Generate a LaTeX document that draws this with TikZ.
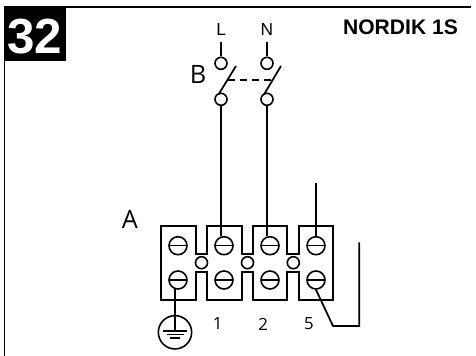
\documentclass[tikz,border=0pt]{standalone}
\usepackage{fontspec}
\setmainfont{Liberation Sans}
\newfontfamily\myriad{Open Sans}
\tikzset{
  x=0.75pt,y=-0.75pt,
  ln/.style={line width=1.3pt,line join=miter},
  screw/.style={circle,draw,line width=1.2pt,minimum size=13.5pt,inner sep=0pt,path picture={\draw[line width=1.2pt] (path picture bounding box.west)--(path picture bounding box.east);}},
  ring/.style={circle,draw,line width=1.2pt,minimum size=9pt,inner sep=0pt},
  lab/.style={font=\myriad\fontsize{12.6pt}{14pt}\selectfont,inner sep=0pt},
  toplab/.style={font=\fontsize{13pt}{15pt}\selectfont,inner sep=0pt},
  big/.style={font=\myriad\fontsize{19pt}{21pt}\selectfont,inner sep=0pt}
}
\begin{document}
\begin{tikzpicture}
\useasboundingbox (0,0) rectangle (476,356);
% frame
\coordinate (fa) at (4.5,7); \coordinate (fb) at (471,7);
\coordinate (fd) at (4.5,356);
\draw[line width=1.2pt] (fd)--(fa)--(fb);
\node[fill=black,minimum width=46.3pt,minimum height=40.7pt,inner sep=0pt,anchor=north west] (numbox) at (4,6.7) {};
\node[text=white,inner sep=0pt,font=\fontsize{37pt}{37pt}\selectfont\bfseries] (num) at (34.5,36.5) {32};
\node[anchor=center,inner sep=0pt,font=\fontsize{15.8pt}{18pt}\selectfont\bfseries] (title) at (400.5,27.5) {NORDIK 1S};
% switch
\node[toplab] (L) at (221.3,30) {L};
\node[toplab] (N) at (267,30) {N};
\node[big] (B) at (198,74) {B};
\node[big] (A) at (130,219) {A};
\node[ring] (l1) at (221,63.3) {};
\node[ring] (n1) at (267,63.3) {};
\node[ring] (l2) at (221,99.3) {};
\node[ring] (n2) at (267,99.3) {};
\coordinate (lt) at (221,42); \coordinate (nt) at (267,42);
\draw[ln] (lt)--(l1.north); \draw[ln] (nt)--(n1.north);
\coordinate (bl1) at (236,66); \coordinate (bl2) at (218.5,94.5);
\coordinate (bn1) at (281,66); \coordinate (bn2) at (264,94.5);
\draw[ln] (bl1)--(bl2); \draw[ln] (bn1)--(bn2);
\coordinate (d1) at (228,80); \coordinate (d2) at (273,80);
\draw[ln,dash pattern=on 5.5pt off 3.5pt] (d1)--(d2);
% terminal block
\draw[ln] (160.7,225.7)--(195.7,225.7)--(195.7,254)--(207.3,254)--(207.3,225.7)--(241.7,225.7)--(241.7,254)--(253.3,254)--(253.3,225.7)--(287.3,225.7)--(287.3,254)--(299.3,254)--(299.3,225.7)--(333,225.7)--(333,300)--(299.3,300)--(299.3,271.7)--(287.3,271.7)--(287.3,300)--(253.3,300)--(253.3,271.7)--(241.7,271.7)--(241.7,300)--(207.3,300)--(207.3,271.7)--(195.7,271.7)--(195.7,300)--(160.7,300)--cycle;
\foreach \n/\x in {a/178,b/224,c/270,d/316}{
  \node[screw] (t\n) at (\x,245.7) {};
  \node[screw] (u\n) at (\x,280) {};
}
\node[ring] (r1) at (201.5,262.7) {};
\node[ring] (r2) at (247.5,262.7) {};
\node[ring] (r3) at (293.3,262.7) {};
% wires
\draw[ln] (l2.south)--(l2.south|-tb.north);
\draw[ln] (n2.south)--(n2.south|-tc.north);
\coordinate (w3) at (316,183);
\draw[ln] (w3)--(td.north);
\coordinate (w4) at (359.3,242.3); \coordinate (w5) at (359.3,326); \coordinate (w6) at (333,326);
\draw[ln] (w4)--(w5)--(w6)--(ud.south);
% ground
\node[circle,draw,line width=1.2pt,minimum size=25pt,inner sep=0pt] (gnd) at (175,332.3) {};
\coordinate (g0) at (175,331); \coordinate (g00) at (175,288);
\draw[ln] (g00)--(g0);
\coordinate (g1a) at (163.3,331); \coordinate (g1b) at (187.3,331);
\coordinate (g2a) at (166.5,334.5); \coordinate (g2b) at (183.5,334.5);
\coordinate (g3a) at (170,338); \coordinate (g3b) at (180,338);
\draw[line width=0.9pt] (g1a)--(g1b) (g2a)--(g2b) (g3a)--(g3b);
% labels
\node[lab] (n1l) at (217.7,324) {1};
\node[lab] (n2l) at (263.3,324) {2};
\node[lab] (n5l) at (309,324) {5};
\end{tikzpicture}
\end{document}
